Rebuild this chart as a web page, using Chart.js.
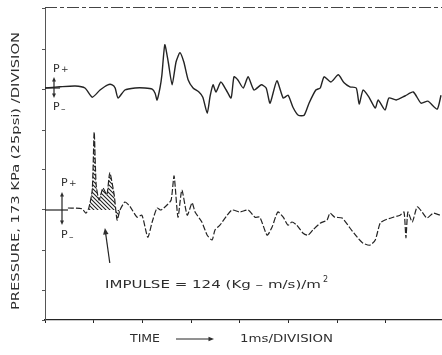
<!DOCTYPE html>
<html>
<head>
<meta charset="utf-8">
<script src="https://cdn.jsdelivr.net/npm/chart.js@4.4.1/dist/chart.umd.min.js"></script>
<style>
  body { margin: 0; background: #fff; }
  canvas { display: block; }
</style>
</head>
<body>
<canvas id="trace" width="442" height="355"></canvas>
<script>
// time in ms, pressure in divisions (173 kPa each)
const topTime = [0.00, 0.31, 0.62, 0.82, 0.97, 1.13, 1.29, 1.38, 1.44, 1.50, 1.64, 1.85, 2.05, 2.20, 2.26, 2.30, 2.36, 2.40, 2.46, 2.53,
  2.61, 2.69, 2.77, 2.85, 2.94, 3.04, 3.16, 3.24, 3.33, 3.39, 3.45, 3.51, 3.61, 3.72, 3.82, 3.88, 3.96, 4.07, 4.17, 4.29,
  4.44, 4.54, 4.62, 4.76, 4.89, 4.99, 5.09, 5.20, 5.32, 5.42, 5.56, 5.65, 5.73, 5.87, 6.02, 6.14, 6.26, 6.39, 6.45, 6.53,
  6.65, 6.78, 6.84, 6.98, 7.06, 7.21, 7.39, 7.56, 7.72, 7.86, 8.05, 8.13];
const topPressure = [0, 0.03, 0.05, 0, -0.23, -0.05, 0.08, 0.08, 0, -0.25, -0.05, 0, 0, -0.03, -0.13, -0.30, 0, 0.33, 1.08, 0.65,
  0.08, 0.65, 0.88, 0.65, 0.20, 0, -0.10, -0.23, -0.63, -0.20, 0.08, -0.10, 0.15, -0.05, -0.25, 0.28, 0.20, 0, 0.28, -0.05,
  0.08, 0, -0.38, 0.18, -0.25, -0.18, -0.48, -0.68, -0.68, -0.38, -0.05, 0, 0.28, 0.15, 0.33, 0.13, 0.03, 0, -0.40, -0.05,
  -0.23, -0.50, -0.30, -0.55, -0.25, -0.30, -0.20, -0.10, -0.38, -0.33, -0.53, -0.18];

const bottomTime = [0.47, 0.76, 0.84, 0.90, 0.97, 1.01, 1.05, 1.11, 1.19, 1.27, 1.33, 1.42, 1.48, 1.54, 1.64, 1.75, 1.89, 1.99, 2.11, 2.20,
  2.30, 2.38, 2.51, 2.59, 2.65, 2.73, 2.81, 2.92, 3.02, 3.08, 3.22, 3.33, 3.43, 3.49, 3.59, 3.74, 3.84, 4.00, 4.17, 4.31,
  4.41, 4.56, 4.66, 4.78, 4.89, 4.99, 5.07, 5.17, 5.30, 5.40, 5.50, 5.65, 5.79, 5.85, 5.95, 6.10, 6.26, 6.41, 6.53, 6.67,
  6.78, 6.88, 6.98, 7.15, 7.29, 7.37, 7.41, 7.45, 7.54, 7.64, 7.74, 7.84, 7.97, 8.11];
const bottomPressure = [0.05, 0.03, -0.08, 0.05, 0.50, 1.95, 0.63, 0.25, 0.55, 0.38, 0.93, 0.38, -0.25, 0, 0.20, 0.08, -0.18, -0.13, -0.68, -0.30,
  0.05, 0, 0.13, 0.25, 0.85, -0.18, 0.50, -0.13, 0.18, -0.05, -0.30, -0.63, -0.75, -0.50, -0.38, -0.13, 0, -0.05, 0, -0.18,
  -0.18, -0.63, -0.43, -0.05, -0.18, -0.38, -0.30, -0.38, -0.58, -0.63, -0.50, -0.33, -0.25, -0.08, -0.18, -0.20, -0.45, -0.68, -0.83, -0.88,
  -0.75, -0.33, -0.25, -0.18, -0.13, -0.05, -0.70, -0.05, -0.30, 0.08, -0.05, -0.20, -0.08, -0.13];

// shaded impulse window (ms)
const impulseFrom = 0.90;
const impulseTo = 1.54;

const ink = '#242424';
const textInk = '#2e2e2e';

const topPoints = topTime.map((t, i) => ({ x: t, y: topPressure[i] }));
const bottomPoints = bottomTime.map((t, i) => ({ x: t, y: bottomPressure[i] }));
const impulsePoints = bottomPoints.filter(p => p.x >= impulseFrom && p.x <= impulseTo);

function hatch() {
  const c = document.createElement('canvas');
  c.width = 4; c.height = 4;
  const g = c.getContext('2d');
  g.strokeStyle = '#222';
  g.lineWidth = 1.1;
  g.beginPath();
  g.moveTo(0, 0); g.lineTo(4, 4);
  g.moveTo(-1, 3); g.lineTo(1, 5);
  g.moveTo(3, -1); g.lineTo(5, 1);
  g.stroke();
  return document.getElementById('trace').getContext('2d').createPattern(c, 'repeat');
}

function fitText(c, text, x, y, width) {
  const w = c.measureText(text).width;
  c.save();
  c.translate(x, y);
  c.scale(width / w, 1);
  c.fillText(text, 0, 0);
  c.restore();
}

function arrow(c, x1, y1, x2, y2, size) {
  const a = Math.atan2(y2 - y1, x2 - x1);
  c.beginPath();
  c.moveTo(x1, y1);
  c.lineTo(x2 - Math.cos(a) * size * 0.8, y2 - Math.sin(a) * size * 0.8);
  c.stroke();
  c.beginPath();
  c.moveTo(x2, y2);
  c.lineTo(x2 - size * Math.cos(a - 0.4), y2 - size * Math.sin(a - 0.4));
  c.lineTo(x2 - size * Math.cos(a + 0.4), y2 - size * Math.sin(a + 0.4));
  c.closePath();
  c.fill();
}

const notes = {
  id: 'notes',
  afterDraw(chart) {
    const c = chart.ctx;
    const xs = chart.scales.x;
    const area = chart.chartArea;
    const y0top = chart.scales.y.getPixelForValue(0);
    const y0bot = chart.scales.y2.getPixelForValue(0);
    c.save();
    c.fillStyle = textInk;
    c.strokeStyle = ink;
    c.lineWidth = 1.2;
    c.textBaseline = 'middle';

    // dashed top rule of the frame
    c.save();
    c.strokeStyle = '#444';
    c.setLineDash([12, 3, 4, 3]);
    c.beginPath();
    c.moveTo(area.left, area.top - 0.5);
    c.lineTo(area.right, area.top - 0.5);
    c.stroke();
    c.restore();

    // left title
    c.save();
    c.translate(16, 171);
    c.rotate(-Math.PI / 2);
    c.font = '11px "DejaVu Sans"';
    fitText(c, 'PRESSURE, 173 KPa (25psi) /DIVISION', -139, 0, 278);
    c.restore();

    // P+ / P- markers: [x, baseline, arrow up, arrow down, label gap]
    c.font = '11px "DejaVu Sans"';
    const marks = [[54, y0top, 11, 10, 8], [62, y0bot, 18, 15, 9]];
    marks.forEach(([x, y, up, down, gap]) => {
      c.beginPath();
      c.moveTo(45, y); c.lineTo(x + 6, y);
      c.stroke();
      arrow(c, x, y, x, y - up, 5);
      arrow(c, x, y, x, y + down, 5);
      c.fillText('P', x - 1, y - up - gap);
      c.font = '9px "DejaVu Sans"';
      c.fillText('+', x + 7, y - up - gap + 1);
      c.fillText('\u2013', x + 7, y + down + gap + 4);
      c.font = '11px "DejaVu Sans"';
      c.fillText('P', x - 1, y + down + gap + 1);
    });

    // impulse note
    c.font = '11px "DejaVu Sans"';
    fitText(c, 'IMPULSE = 124 (Kg \u2013 m/s)/m', 105, 285, 216);
    c.font = '8px "DejaVu Sans"';
    c.fillText('2', 323, 280);
    arrow(c, xs.getPixelForValue(1.33), 263, xs.getPixelForValue(1.23), 228, 7);

    // time axis label
    c.font = '10px "DejaVu Sans"';
    fitText(c, 'TIME', 130, 339, 30);
    c.lineWidth = 1;
    arrow(c, 176, 339, 214, 339, 6);
    fitText(c, '1ms/DIVISION', 240, 339, 93);
    c.restore();
  }
};

new Chart(document.getElementById('trace'), {
  type: 'line',
  data: {
    datasets: [
      {
        label: 'impulse',
        data: impulsePoints,
        yAxisID: 'y2',
        borderWidth: 0,
        pointRadius: 0,
        tension: 0.2,
        fill: 'origin',
        backgroundColor: hatch()
      },
      {
        label: 'upper gauge',
        data: topPoints,
        yAxisID: 'y',
        borderColor: ink,
        borderWidth: 1.4,
        pointRadius: 0,
        tension: 0.2,
        fill: false
      },
      {
        label: 'lower gauge',
        data: bottomPoints,
        yAxisID: 'y2',
        borderColor: ink,
        borderWidth: 1.2,
        borderDash: [6, 2],
        pointRadius: 0,
        tension: 0.2,
        fill: false
      }
    ]
  },
  options: {
    responsive: false,
    animation: false,
    devicePixelRatio: 1,
    layout: { padding: { top: 8, left: 0, right: 0, bottom: 0 } },
    plugins: { legend: { display: false }, tooltip: { enabled: false } },
    scales: {
      x: {
        type: 'linear',
        min: 0,
        max: 8.15,
        ticks: { display: false, stepSize: 1 },
        grid: { drawOnChartArea: false, drawTicks: true, tickLength: 3, color: ink },
        border: { color: ink, width: 1.2 },
        afterFit(s) { s.height = 35; }
      },
      y: {
        display: false,
        min: -5.8,
        max: 2.0
      },
      y2: {
        position: 'left',
        min: -2.75,
        max: 5.05,
        ticks: { display: false, stepSize: 1 },
        grid: { drawOnChartArea: false, drawTicks: true, tickLength: 3, color: '#555' },
        border: { color: '#555', width: 1, dash: [5, 4] },
        afterFit(s) { s.width = 45; }
      }
    }
  },
  plugins: [notes]
});
</script>
</body>
</html>
